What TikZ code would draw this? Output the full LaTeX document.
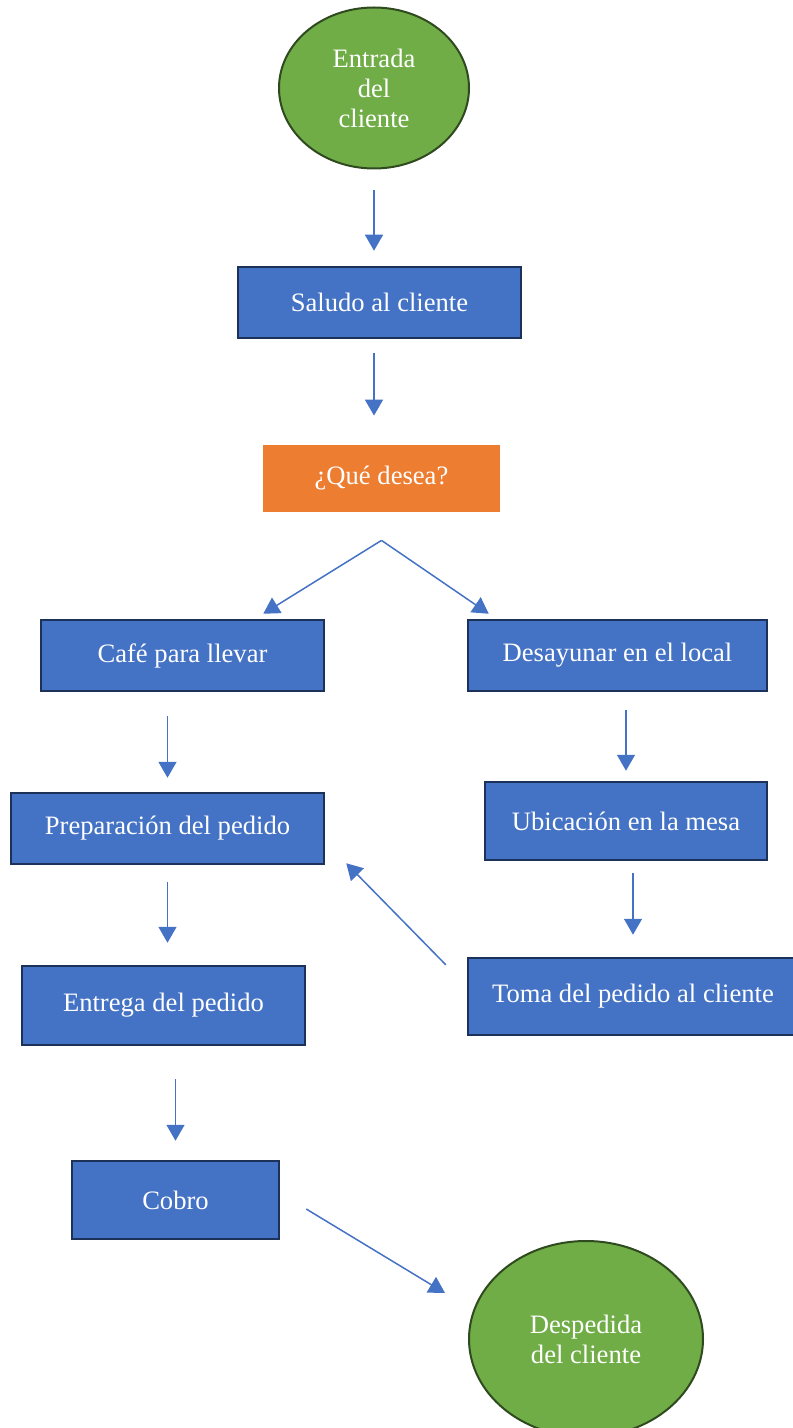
\documentclass[tikz,border=0pt]{standalone}
\usepackage{fontspec}
\setmainfont{Liberation Serif}
\usetikzlibrary{shapes.geometric,arrows.meta}
\definecolor{azul}{HTML}{4472C4}
\definecolor{azulborde}{HTML}{1C3259}
\definecolor{verde}{HTML}{70AD47}
\definecolor{verdeborde}{HTML}{2F4A1F}
\definecolor{naranja}{HTML}{ED7D31}

\begin{document}
\begin{tikzpicture}[x=0.5pt,y=-0.5pt,
    caja/.style={draw=azulborde,line width=1.25pt,fill=azul,text=white,
      minimum height=35.5pt,inner sep=0pt},
    ovalo/.style={ellipse,draw=verdeborde,line width=1pt,fill=verde,
      text=white,align=center,inner sep=0pt},
    flecha/.style={draw=azul,line width=0.75pt,
      -{Triangle[length=8pt,width=9pt]}},
    font=\fontsize{13.3}{15}\selectfont]
    \useasboundingbox (0,0) rectangle (792,1428);

    \node[ovalo,minimum width=95pt,minimum height=80.5pt] (entrada)
      at (374,88) {Entrada\\del\\cliente};
    \node[caja,minimum width=141.5pt] (saludo) at (379.5,302.5)
      {Saludo al cliente};
    \node[fill=naranja,text=white,minimum width=118.5pt,
      minimum height=33.5pt,inner sep=0pt] (desea) at (381.5,478.5)
      {¿Qué desea?};
    \node[caja,minimum width=141.5pt] (cafe) at (182.5,655.5)
      {Café para llevar};
    \node[caja,minimum width=149.5pt] (desayunar) at (617.5,655.5)
      {Desayunar en el local};
    \node[caja,minimum width=156.5pt] (preparacion) at (167.5,828.5)
      {Preparación del pedido};
    \node[caja,minimum width=141pt,minimum height=39pt] (ubicacion)
      at (626,821) {Ubicación en la mesa};
    \node[caja,minimum width=165pt,minimum height=38.5pt] (toma)
      at (633,996.5) {Toma del pedido al cliente};
    \node[caja,minimum width=141.5pt,minimum height=39.5pt] (entrega)
      at (163.5,1005.5) {Entrega del pedido};
    \node[caja,minimum width=103.5pt,minimum height=39pt] (cobro)
      at (175.5,1200) {Cobro};
    \node[ovalo,minimum width=117pt,minimum height=98pt] (despedida)
      at (586,1339) {Despedida\\del cliente};

    \coordinate (bifurcacion) at ([yshift=-14pt]desea.south);

    \draw[flecha,shorten <=10.5pt,shorten >=7.5pt] (entrada.south)
      -- (entrada.south |- saludo.north);
    \draw[flecha,shorten <=7pt,shorten >=14.5pt]
      (saludo.south -| entrada.south) -- (entrada.south |- desea.north);
    \draw[flecha] (bifurcacion) -- ([xshift=-31pt,yshift=2.5pt]cafe.north east);
    \draw[flecha] (bifurcacion)
      -- ([xshift=11pt,yshift=2.5pt]desayunar.north west);
    \draw[flecha,shorten <=12pt,shorten >=7pt]
      (preparacion.north |- cafe.south) -- (preparacion.north);
    \draw[flecha,shorten <=9pt,shorten >=5pt]
      (ubicacion.north |- desayunar.south) -- (ubicacion.north);
    \draw[flecha,shorten <=6pt,shorten >=11pt]
      (toma.north |- ubicacion.south) -- (toma.north);
    \draw[flecha] ([xshift=-10.5pt,yshift=-4pt]toma.north west)
      -- ([xshift=10.5pt,yshift=1pt]preparacion.south east);
    \draw[flecha,shorten <=8.5pt,shorten >=11pt] (preparacion.south)
      -- (preparacion.south |- entrega.north);
    \draw[flecha,shorten <=16.5pt,shorten >=9.5pt]
      (cobro.north |- entrega.south) -- (cobro.north);
    \draw[flecha] ([xshift=13pt,yshift=-4.5pt]cobro.east)
      -- ([xshift=-11.5pt,yshift=23pt]despedida.west);
  \end{tikzpicture}
\end{document}
